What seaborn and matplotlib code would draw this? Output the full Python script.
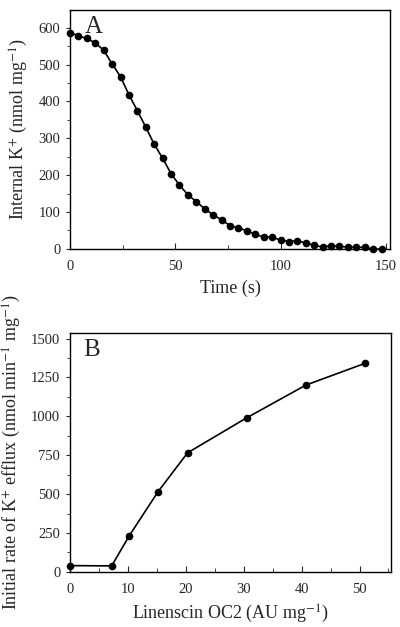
import numpy as np
import pandas as pd
import matplotlib
matplotlib.use("Agg")
import matplotlib.pyplot as plt
from matplotlib.ticker import MultipleLocator
import seaborn as sns

# Panel A: internal K+ over time
time_s = [0, 4, 8, 12, 16, 20, 24, 28, 32, 36, 40, 44, 48, 52, 56, 60, 64, 68, 72,
          76, 80, 84, 88, 92, 96, 100, 104, 108, 112, 116, 120, 124, 128, 132, 136,
          140, 144, 148]
internal_k = [587, 578, 571, 559, 539, 502, 467, 418, 375, 330, 284, 246, 204, 173,
              147, 128, 109, 92, 79, 63, 57, 49, 40, 32, 32, 24, 20, 22, 16, 10, 5,
              9, 7, 5, 5, 4, 0, -1]

# Panel B: initial efflux rate vs linenscin dose
linenscin = [0, 7.2, 10.2, 15.2, 20.3, 30.5, 40.7, 50.9]
efflux_rate = [40, 38, 230, 515, 765, 990, 1200, 1340]

df_a = pd.DataFrame({"Time": time_s, "K": internal_k})
df_b = pd.DataFrame({"Dose": linenscin, "Rate": efflux_rate})

sns.set_style("ticks")
plt.rcParams["font.family"] = ["Liberation Serif", "DejaVu Serif"]
plt.rcParams["mathtext.fontset"] = "stix"

fig = plt.figure(figsize=(4.0, 6.27), dpi=100)
ax_a = fig.add_axes([0.175, 0.603, 0.80, 0.381])
ax_b = fig.add_axes([0.175, 0.088, 0.802, 0.381])

line_kw = dict(color="black", marker="o", markersize=5.5, markeredgewidth=0,
               linewidth=1.2, clip_on=False)

sns.lineplot(data=df_a, x="Time", y="K", ax=ax_a, **line_kw)
sns.lineplot(data=df_b, x="Dose", y="Rate", ax=ax_b, **line_kw)

# axes A
ax_a.set_xlim(0, 152)
ax_a.set_ylim(0, 648)
ax_a.xaxis.set_major_locator(MultipleLocator(50))
ax_a.xaxis.set_minor_locator(MultipleLocator(25))
ax_a.yaxis.set_major_locator(MultipleLocator(100))
ax_a.yaxis.set_minor_locator(MultipleLocator(50))
ax_a.set_xlabel("Time (s)", fontsize=13, labelpad=5)
ax_a.set_ylabel(r"Internal K$^{+}$ (nmol mg$^{-1}$)", fontsize=13, labelpad=6)
ax_a.text(0.045, 0.975, "A", transform=ax_a.transAxes, fontsize=18,
          va="top", ha="left")

# axes B
ax_b.set_xlim(0, 55.4)
ax_b.set_ylim(0, 1536)
ax_b.xaxis.set_major_locator(MultipleLocator(10))
ax_b.xaxis.set_minor_locator(MultipleLocator(5))
ax_b.yaxis.set_major_locator(MultipleLocator(250))
ax_b.yaxis.set_minor_locator(MultipleLocator(125))
ax_b.set_xlabel(r"Linenscin OC2 (AU mg$^{-1}$)", fontsize=13, labelpad=5)
ax_b.set_ylabel(r"Initial rate of K$^{+}$ efflux (nmol min$^{-1}$ mg$^{-1}$)",
                fontsize=13, labelpad=6)
ax_b.text(0.04, 0.975, "B", transform=ax_b.transAxes, fontsize=18,
          va="top", ha="left")

for ax in (ax_a, ax_b):
    for sp in ax.spines.values():
        sp.set_visible(True)
        sp.set_linewidth(1.0)
        sp.set_color("black")
    ax.tick_params(axis="x", which="both", direction="in", labelsize=10.5,
                   pad=8, top=False)
    ax.tick_params(axis="x", which="major", length=4)
    ax.tick_params(axis="x", which="minor", length=3)
    ax.tick_params(axis="y", which="both", direction="out", labelsize=10.5,
                   pad=4, right=False)
    ax.tick_params(axis="y", which="major", length=3)
    ax.tick_params(axis="y", which="minor", length=2.5)

fig.savefig("out.png", dpi=100)
